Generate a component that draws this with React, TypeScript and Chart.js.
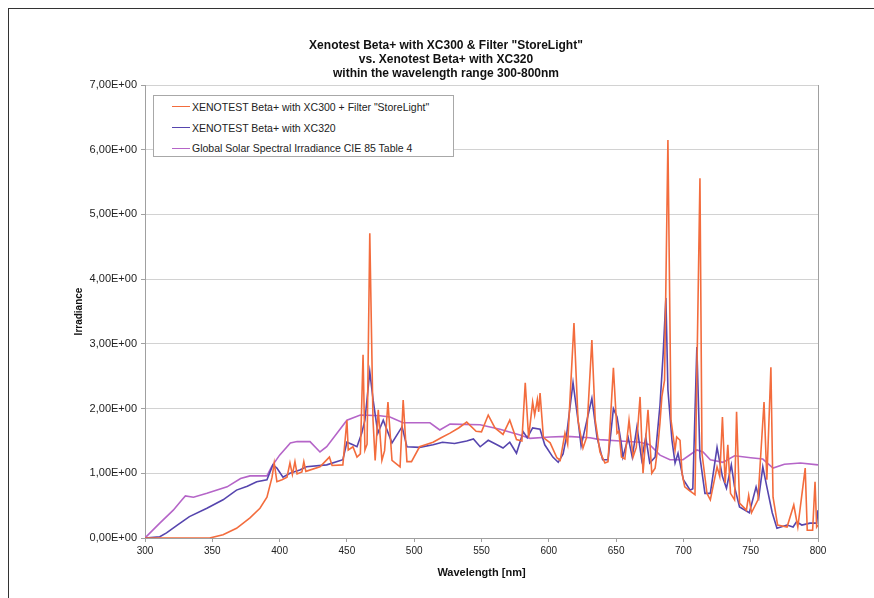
import React, { useEffect, useRef } from "react";
import { Chart, registerables } from "chart.js";

Chart.register(...registerables);

const FONT = "'Liberation Sans', Arial, Helvetica, sans-serif";

const TITLE_LINES = [
  'Xenotest Beta+ with XC300 & Filter "StoreLight"',
  "vs. Xenotest Beta+ with XC320",
  "within the wavelength range 300-800nm",
];
const X_TITLE = "Wavelength [nm]";
const Y_TITLE = "Irradiance";
const X_TICKS = [300, 350, 400, 450, 500, 550, 600, 650, 700, 750, 800];
const Y_TICKS = [0, 1, 2, 3, 4, 5, 6, 7];

const SERIES_LABELS = [
  'XENOTEST Beta+ with XC300 + Filter "StoreLight"',
  "XENOTEST Beta+ with XC320",
  "Global Solar Spectral Irradiance CIE 85 Table 4",
];
const SERIES_COLORS = ["#F36C3D", "#5645AE", "#B565C8"];

// XC300 + Filter "StoreLight"
const STORELIGHT_WL = [
  300, 348, 358, 368, 378, 385.4, 390.6, 394.4, 396, 398, 401.8, 405.5, 407.7, 409.5, 411.4, 413,
  416.6, 418, 419.5, 430, 437, 439, 447, 450, 451, 454.5, 457.5, 460, 462, 463.4, 465, 467, 469.4,
  471, 473.3, 476, 478, 480.5, 483.5, 489.5, 491.8, 494.6, 498, 504, 514, 520, 526.6, 533, 539,
  546, 550, 555, 560, 566, 571, 576, 580, 582.5, 585, 588, 589.5, 591.5, 592.5, 593.5, 596,
  601, 606, 608.5, 612, 614, 618.7, 621.7, 625.4, 628, 632, 634.5, 638, 641.7, 644, 648, 650.7,
  652, 654, 656.5, 659.6, 662.6, 665, 667.8, 670, 673.7, 676.5, 679, 681, 682.6, 684, 686, 688.5,
  690.8, 693.8, 695, 697.5, 699, 701, 704, 708.6, 712.3, 713.8, 717.5, 720, 725, 727, 729, 731,
  733, 735, 738, 739.5, 741.7, 746.8, 748.5, 750.6, 755.4, 759.9, 762, 765, 766.6, 770, 777, 782,
  785, 790.5, 792, 796, 797.8, 799, 800,
];
const STORELIGHT_VAL = [
  0, 0, 0.05, 0.15, 0.31, 0.46, 0.63, 0.94, 1.16, 0.87, 0.9, 0.94, 1.16, 0.98, 1.18, 0.99,
  1.02, 1.18, 1.03, 1.1, 1.25, 1.12, 1.13, 1.82, 1.36, 1.41, 1.25, 1.3, 2.83, 1.36, 1.45, 4.71, 1.82,
  1.2, 1.98, 1.2, 1.35, 2.1, 1.2, 1.1, 2.13, 1.18, 1.18, 1.41, 1.48, 1.55, 1.62, 1.7, 1.79,
  1.65, 1.64, 1.9, 1.7, 1.6, 1.82, 1.52, 1.5, 2.4, 1.55, 2.1, 1.9, 2.14, 1.95, 2.24, 1.55,
  1.47, 1.24, 1.2, 1.62, 1.45, 3.32, 1.82, 1.39, 1.55, 3.06, 1.82, 1.33, 1.16, 1.18, 2.63, 1.62,
  1.65, 1.25, 1.22, 1.82, 1.25, 1.4, 2.18, 1.0, 1.98, 1.0, 1.08, 1.41, 1.78, 2.18, 2.44, 6.15,
  1.82, 1.36, 1.56, 1.51, 1.0, 0.79, 0.74, 0.67, 5.56, 1.31, 0.69, 0.59, 1.1, 0.95, 1.87, 0.85,
  1.44, 0.69, 0.59, 1.95, 0.54, 0.43, 0.66, 0.39, 0.59, 2.1, 0.9, 2.64, 0.63, 0.2, 0.17, 0.51,
  0.17, 1.08, 0.12, 0.12, 0.87, 0.17, 0.2,
];

// XC320
const XC320_WL = [
  300, 311, 316, 324, 333, 346, 358, 368, 376, 383, 390.6, 395, 398, 402.5, 407.7, 415, 420, 435,
  447, 450, 454.5, 457.5, 461, 463.4, 467, 469.5, 473, 477, 483.5, 491, 494.6, 504, 514, 521, 530,
  539, 544, 549, 555, 561.5, 566, 571, 576, 581, 584, 588, 593.5, 597, 603, 607, 610.6, 613, 618,
  621.7, 624, 632, 635.8, 640, 644, 648, 650.7, 654, 655, 659, 662, 665.5, 669, 672, 675, 679,
  682.6, 685, 687, 688.5, 691.5, 693.8, 696, 700, 705, 707, 710, 712.3, 716, 720, 725, 729, 732,
  735.6, 738, 741.7, 749, 754, 756, 759, 762, 766, 769.5, 777, 781.5, 784, 788, 794, 799, 800,
];
const XC320_VAL = [
  0, 0.02, 0.08, 0.2, 0.33, 0.46, 0.59, 0.74, 0.8, 0.87, 0.9, 1.13, 1.08, 0.94, 1.0, 1.05, 1.1, 1.13,
  1.21, 1.48, 1.44, 1.41, 1.62, 1.82, 2.57, 2.13, 1.62, 1.82, 1.47, 1.72, 1.41, 1.4, 1.44, 1.48, 1.46,
  1.5, 1.53, 1.41, 1.51, 1.44, 1.39, 1.48, 1.31, 1.64, 1.55, 1.7, 1.68, 1.44, 1.25, 1.17, 1.3, 1.55, 2.4,
  1.82, 1.42, 2.16, 1.56, 1.21, 1.21, 2.0, 1.87, 1.44, 1.25, 1.55, 1.25, 1.72, 1.21, 1.56, 1.16, 1.25,
  2.05, 2.86, 3.71, 2.29, 1.51, 1.16, 1.31, 0.9, 0.74, 0.76, 2.95, 1.25, 0.69, 0.69, 1.4, 0.95, 0.77,
  1.13, 0.79, 0.48, 0.39, 0.79, 0.63, 1.1, 0.79, 0.39, 0.15, 0.2, 0.17, 0.25, 0.2, 0.23, 0.23, 0.43,
];

// Global Solar Spectral Irradiance CIE 85 Table 4
const SOLAR_WL = [
  300, 311, 321, 327.5, 330, 336, 346, 361, 371, 378, 390.6, 394, 400, 408, 413, 422.6, 430, 435,
  450, 460, 474.6, 482, 491.7, 511.7, 519, 526.6, 549, 563.7, 578.6, 586, 601, 613.5, 630.6, 638,
  653, 667.7, 675, 682.6, 690, 699.7, 710, 714.6, 720, 729.4, 738, 750, 759, 766.6, 775, 787, 800,
];
const SOLAR_VAL = [
  0, 0.23, 0.43, 0.59, 0.65, 0.63, 0.69, 0.79, 0.92, 0.96, 0.96, 1.1, 1.28, 1.47, 1.49, 1.49, 1.33, 1.41,
  1.82, 1.9, 1.89, 1.87, 1.78, 1.78, 1.67, 1.76, 1.75, 1.68, 1.59, 1.54, 1.56, 1.57, 1.55, 1.52,
  1.5, 1.48, 1.44, 1.28, 1.21, 1.21, 1.36, 1.33, 1.21, 1.17, 1.27, 1.24, 1.22, 1.08, 1.14, 1.16, 1.13,
];

const toPoints = (wl: number[], val: number[]) => wl.map((w, i) => ({ x: w, y: val[i] }));

const fmtY = (v: number) => v.toFixed(2).replace(".", ",") + "E+00";

export default function App() {
  const ref = useRef<HTMLCanvasElement>(null);

  useEffect(() => {
    if (!ref.current) return;
    const seriesData = [
      toPoints(STORELIGHT_WL, STORELIGHT_VAL),
      toPoints(XC320_WL, XC320_VAL),
      toPoints(SOLAR_WL, SOLAR_VAL),
    ];
    const chart = new Chart(ref.current, {
      type: "line",
      data: {
        datasets: seriesData.map((d, i) => ({
          label: SERIES_LABELS[i],
          data: d,
          borderColor: SERIES_COLORS[i],
          backgroundColor: SERIES_COLORS[i],
          borderWidth: 1.6,
          pointRadius: 0,
          fill: false,
          tension: 0,
        })),
      },
      options: {
        animation: false,
        responsive: false,
        maintainAspectRatio: false,
        layout: { padding: { left: 74, right: 56, top: 0, bottom: 0 } },
        plugins: {
          legend: { display: false },
          tooltip: { enabled: false },
          title: {
            display: true,
            text: TITLE_LINES,
            color: "#111",
            font: { family: FONT, size: 12, weight: "bold", lineHeight: 14 / 12 },
            padding: { top: 38.7, bottom: 4.3 },
          },
        },
        scales: {
          x: {
            type: "linear",
            min: 300,
            max: 800,
            afterBuildTicks: (s: any) => {
              s.ticks = X_TICKS.map((v) => ({ value: v }));
            },
            afterFit: (s: any) => {
              s.height = 60;
            },
            ticks: {
              color: "#222",
              font: { family: FONT, size: 10 },
              padding: 3,
              maxRotation: 0,
              autoSkip: false,
            },
            grid: {
              color: (ctx: any) =>
                ctx.tick && ctx.tick.value === 800 ? "#a0a0a0" : "rgba(0,0,0,0)",
              tickColor: "#a0a0a0",
              tickLength: 4,
              lineWidth: 1,
            },
            border: { color: "#a0a0a0", width: 1 },
            title: {
              display: true,
              text: X_TITLE,
              color: "#111",
              font: { family: FONT, size: 11, weight: "bold", lineHeight: 1.2 },
              padding: { top: 0, bottom: 18.5 },
            },
          },
          y: {
            type: "linear",
            min: 0,
            max: 7,
            afterBuildTicks: (s: any) => {
              s.ticks = Y_TICKS.map((v) => ({ value: v }));
            },
            afterFit: (s: any) => {
              s.width = 71;
            },
            ticks: {
              color: "#222",
              font: { family: FONT, size: 11 },
              padding: 4,
              callback: (v: any) => fmtY(Number(v)),
            },
            grid: {
              color: "#d2d2d2",
              tickColor: "#a0a0a0",
              tickLength: 4,
              lineWidth: 1,
            },
            border: { color: "#a0a0a0", width: 1 },
            title: {
              display: true,
              text: Y_TITLE,
              color: "#111",
              font: { family: FONT, size: 10, weight: "bold", lineHeight: 1.2 },
              padding: { top: -1, bottom: 0 },
            },
          },
        },
      },
    } as any);
    return () => chart.destroy();
  }, []);

  const legendRows = [105.7, 126.7, 147.3];

  return (
    <div
      style={{
        position: "fixed",
        left: 0,
        top: 0,
        width: 874,
        height: 598,
        overflow: "hidden",
        background: "#fff",
      }}
    >
      <div
        style={{
          position: "absolute",
          left: 8,
          top: 8,
          width: 900,
          height: 700,
          borderLeft: "1px solid #333",
          borderTop: "1px solid #333",
        }}
      />
      <canvas
        ref={ref}
        width={874}
        height={598}
        style={{ position: "absolute", left: 0, top: 0, width: 874, height: 598 }}
      />
      <div
        style={{
          position: "absolute",
          left: 153,
          top: 95,
          width: 301,
          height: 62,
          boxSizing: "border-box",
          border: "1px solid #a8a8a8",
          background: "#fff",
        }}
      >
        {SERIES_LABELS.map((lab, i) => (
          <div
            key={lab}
            style={{
              position: "absolute",
              left: 0,
              top: legendRows[i] - 95 - 7,
              height: 14,
              width: 300,
              fontFamily: FONT,
              fontSize: 10.5,
              lineHeight: "14px",
              color: "#222",
              whiteSpace: "nowrap",
            }}
          >
            <span
              style={{
                position: "absolute",
                left: 18,
                top: 6.5,
                width: 18,
                height: 0,
                borderTop: `1.5px solid ${SERIES_COLORS[i]}`,
              }}
            />
            <span style={{ position: "absolute", left: 38, top: 0 }}>{lab}</span>
          </div>
        ))}
      </div>
    </div>
  );
}
